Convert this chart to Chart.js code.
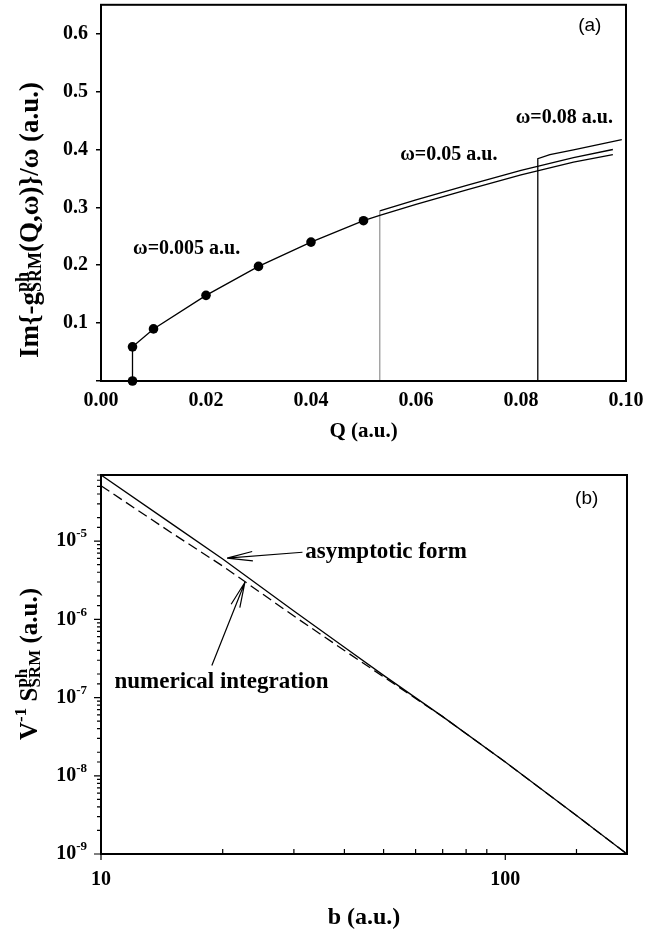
<!DOCTYPE html>
<html>
<head>
<meta charset="utf-8">
<script src="https://cdn.jsdelivr.net/npm/chart.js@4/dist/chart.umd.min.js"></script>
<style>
  html, body { margin: 0; padding: 0; background: #fff; }
  #wrapA { position: absolute; left: 0; top: 0; width: 645px; height: 450px; }
  #wrapB { position: absolute; left: 0; top: 450px; width: 645px; height: 485px; }
</style>
</head>
<body>
<div id="wrapA"><canvas id="chartA"></canvas></div>
<div id="wrapB"><canvas id="chartB"></canvas></div>
<script>
// ---- panel (a): Im{-g}/omega vs Q ----
const qDots = [0.006, 0.006, 0.01, 0.02, 0.03, 0.04, 0.05];
const imDots = [0, 0.059, 0.09, 0.148, 0.198, 0.24, 0.277];
const qLow = [0.006, 0.006, 0.01, 0.02, 0.03, 0.04, 0.05, 0.0531, 0.06, 0.07, 0.08, 0.09, 0.0975];
const imLow = [0, 0.059, 0.09, 0.148, 0.198, 0.24, 0.277, 0.286, 0.305, 0.331, 0.356, 0.378, 0.391];
const qMid = [0.0531, 0.0531, 0.06, 0.07, 0.08, 0.09, 0.0975];
const imMid = [0, 0.294, 0.313, 0.339, 0.364, 0.386, 0.400];
const qHigh = [0.0832, 0.0832, 0.0855, 0.09, 0.0992];
const imHigh = [0, 0.384, 0.391, 0.3995, 0.417];
const qTickLabels = ["0.00", "0.02", "0.04", "0.06", "0.08", "0.10"];
const imTickLabels = ["0.1", "0.2", "0.3", "0.4", "0.5", "0.6"];

// ---- panel (b): V^-1 S vs b ----
const bVals = [10, 15, 20, 30, 40, 50, 70, 100, 150, 200];
const sAsym = [7.0e-5, 1.65e-5, 5.9e-6, 1.28e-6, 4.4e-7, 1.92e-7, 5.7e-8, 1.5e-8, 3.1e-9, 1.0e-9];
const sNum = [5.1e-5, 1.26e-5, 4.8e-6, 1.10e-6, 4.0e-7, 1.84e-7, 5.7e-8, 1.5e-8, 3.1e-9, 1.0e-9];
const bTickLabels = ["10", "100"];

const serif = '"Liberation Serif", "Times New Roman", serif';
const sans = '"Liberation Sans", Arial, sans-serif';
const bold = s => `bold ${s}px ${serif}`;
const pts = (xs, ys) => xs.map((x, i) => ({ x, y: ys[i] }));

const frame = {
  id: "frame",
  afterDraw(chart) {
    const { ctx, chartArea: a } = chart;
    ctx.save();
    ctx.strokeStyle = "#000";
    ctx.lineWidth = 2;
    ctx.strokeRect(a.left, a.top, a.right - a.left, a.bottom - a.top);
    ctx.restore();
  }
};

const richWidth = (ctx, runs) => runs.reduce((w, r) => {
  ctx.font = bold(r.size);
  if (r.stack) return w + Math.max(...r.stack.map(s => ctx.measureText(s.t).width));
  return w + ctx.measureText(r.t).width;
}, 0);

const drawRich = (ctx, runs, cx, cy, vertical) => {
  ctx.save();
  ctx.translate(cx, cy);
  if (vertical) ctx.rotate(-Math.PI / 2);
  ctx.textBaseline = "middle";
  ctx.textAlign = "left";
  ctx.fillStyle = "#000";
  let x = -richWidth(ctx, runs) / 2;
  runs.forEach(r => {
    ctx.font = bold(r.size);
    if (r.stack) {
      let w = 0;
      r.stack.forEach(s => {
        ctx.fillText(s.t, x, s.dy);
        w = Math.max(w, ctx.measureText(s.t).width);
      });
      x += w;
    } else {
      ctx.fillText(r.t, x, r.dy || 0);
      x += ctx.measureText(r.t).width;
    }
  });
  ctx.restore();
};

const label = (ctx, text, x, y, font, align = "left") => {
  ctx.font = font;
  ctx.textAlign = align;
  ctx.textBaseline = "middle";
  ctx.fillStyle = "#000";
  ctx.fillText(text, x, y);
};

const arrow = (ctx, x0, y0, x1, y1) => {
  const ang = Math.atan2(y0 - y1, x0 - x1);
  ctx.beginPath();
  ctx.moveTo(x0, y0);
  ctx.lineTo(x1, y1);
  [-0.18, 0.18].forEach(d => {
    ctx.moveTo(x1, y1);
    ctx.lineTo(x1 + 26 * Math.cos(ang + d), y1 + 26 * Math.sin(ang + d));
  });
  ctx.stroke();
};

const notesA = {
  id: "notesA",
  afterDraw(chart) {
    const { ctx, scales: { x, y } } = chart;
    ctx.save();
    label(ctx, "ω=0.005 a.u.", x.getPixelForValue(0.0061), y.getPixelForValue(0.229), bold(20));
    label(ctx, "ω=0.05 a.u.", x.getPixelForValue(0.057), y.getPixelForValue(0.39), bold(20));
    label(ctx, "ω=0.08 a.u.", x.getPixelForValue(0.079), y.getPixelForValue(0.455), bold(20));
    label(ctx, "(a)", x.getPixelForValue(0.0931), y.getPixelForValue(0.614), `19px ${sans}`, "center");
    label(ctx, "Q (a.u.)", (chart.chartArea.left + chart.chartArea.right) / 2, 432, bold(21), "center");
    drawRich(ctx, [
      { t: "Im{-g", size: 27 },
      { stack: [{ t: "ph", dy: -8 }, { t: "SRM", dy: 5 }], size: 18 },
      { t: "(Q,ω)}/ω (a.u.)", size: 27 }
    ], 31, 220, true);
    ctx.restore();
  }
};

const notesB = {
  id: "notesB",
  afterDraw(chart) {
    const { ctx, scales: { x, y }, chartArea: a } = chart;
    const isMajor = v => Math.abs(Math.log10(v) - Math.round(Math.log10(v))) < 1e-6;
    ctx.save();
    ctx.strokeStyle = "#000";
    ctx.lineWidth = 1.2;
    ctx.beginPath();
    y.ticks.forEach(t => {
      const py = y.getPixelForValue(t.value);
      const len = isMajor(t.value) ? 7 : 4;
      ctx.moveTo(a.left - len, py);
      ctx.lineTo(a.left, py);
    });
    x.ticks.forEach(t => {
      const px = x.getPixelForValue(t.value);
      if (isMajor(t.value)) { ctx.moveTo(px, a.bottom); ctx.lineTo(px, a.bottom + 6); }
      else { ctx.moveTo(px, a.bottom); ctx.lineTo(px, a.bottom - 5); }
    });
    ctx.stroke();

    // y tick labels 10^n
    y.ticks.filter(t => isMajor(t.value)).forEach(t => {
      const py = y.getPixelForValue(t.value);
      const exp = String(Math.round(Math.log10(t.value)));
      ctx.font = bold(13);
      const we = ctx.measureText(exp).width;
      const right = a.left - 14;
      label(ctx, exp, right - we, py - 7, bold(13));
      label(ctx, "10", right - we, py, bold(20), "right");
    });

    ctx.lineWidth = 1.2;
    const p = (bv, sv) => [x.getPixelForValue(bv), y.getPixelForValue(sv)];
    arrow(ctx, ...p(31.5, 7.2e-6), ...p(20.5, 6.05e-6));
    arrow(ctx, ...p(18.8, 2.57e-7), ...p(22.7, 2.98e-6));
    label(ctx, "asymptotic form", ...p(32, 7.2e-6), bold(23));
    label(ctx, "numerical integration", ...p(10.8, 1.56e-7), bold(23));
    label(ctx, "(b)", ...p(159, 3.45e-5), `19px ${sans}`, "center");
    label(ctx, "b (a.u.)", (a.left + a.right) / 2, 468, bold(24), "center");
    drawRich(ctx, [
      { t: "V", size: 25 },
      { t: "-1", size: 17, dy: -9 },
      { t: " S", size: 25 },
      { stack: [{ t: "ph", dy: -8 }, { t: "SRM", dy: 5 }], size: 17 },
      { t: " (a.u.)", size: 25 }
    ], 31, 214, true);
    ctx.restore();
  }
};

const lineStyle = { borderColor: "#000", borderWidth: 1.3, pointRadius: 0, fill: false, tension: 0 };

new Chart(document.getElementById("chartA"), {
  type: "line",
  data: {
    datasets: [
      { data: pts(qDots, imDots), showLine: false, pointRadius: 4.8, pointBackgroundColor: "#000", pointBorderWidth: 0, clip: false },
      { ...lineStyle, data: pts(qLow, imLow) },
      { ...lineStyle, borderColor: "#999", data: pts(qMid.slice(0, 2), imMid.slice(0, 2)) },
      { ...lineStyle, data: pts(qMid.slice(1), imMid.slice(1)) },
      { ...lineStyle, data: pts(qHigh, imHigh) }
    ]
  },
  options: {
    responsive: true,
    maintainAspectRatio: false,
    animation: false,
    layout: { padding: { top: 3, right: 19, left: 0, bottom: 0 } },
    plugins: { legend: { display: false }, tooltip: { enabled: false } },
    scales: {
      x: {
        type: "linear", min: 0, max: 0.1,
        border: { display: false },
        grid: { display: false },
        ticks: {
          stepSize: 0.02, padding: 0, color: "#000", font: { family: serif, size: 20, weight: "bold" },
          callback: (v) => qTickLabels.find(s => Math.abs(parseFloat(s) - v) < 1e-6) || ""
        },
        afterFit: s => { s.height = 69; s.paddingLeft = 0; s.paddingRight = 0; }
      },
      y: {
        type: "linear", min: 0, max: 0.65,
        border: { display: false },
        grid: { drawOnChartArea: false, drawTicks: true, tickLength: 5, color: "#000", lineWidth: 1.5 },
        ticks: {
          stepSize: 0.1, includeBounds: false, padding: 8, color: "#000", font: { family: serif, size: 20, weight: "bold" },
          callback: (v) => imTickLabels.find(s => Math.abs(parseFloat(s) - v) < 1e-6) || ""
        },
        afterFit: s => { s.width = 101; s.paddingTop = 0; s.paddingBottom = 0; }
      }
    }
  },
  plugins: [frame, notesA]
});

new Chart(document.getElementById("chartB"), {
  type: "line",
  data: {
    datasets: [
      { ...lineStyle, data: pts(bVals, sAsym) },
      { ...lineStyle, borderDash: [10, 5], data: pts(bVals, sNum) }
    ]
  },
  options: {
    responsive: true,
    maintainAspectRatio: false,
    animation: false,
    layout: { padding: { top: 25, right: 18, left: 0, bottom: 0 } },
    plugins: { legend: { display: false }, tooltip: { enabled: false } },
    scales: {
      x: {
        type: "logarithmic", min: 10, max: 200,
        border: { display: false },
        grid: { display: false },
        ticks: {
          autoSkip: false, maxRotation: 0, padding: 6, color: "#000", font: { family: serif, size: 20, weight: "bold" },
          callback: (v) => bTickLabels.includes(String(v)) ? String(v) : ""
        },
        afterFit: s => { s.height = 81; s.paddingLeft = 0; s.paddingRight = 0; }
      },
      y: {
        type: "logarithmic", min: 1e-9, max: 7e-5,
        border: { display: false },
        grid: { display: false },
        ticks: { display: false, autoSkip: false },
        afterFit: s => { s.width = 101; s.paddingTop = 0; s.paddingBottom = 0; }
      }
    }
  },
  plugins: [frame, notesB]
});
</script>
</body>
</html>
